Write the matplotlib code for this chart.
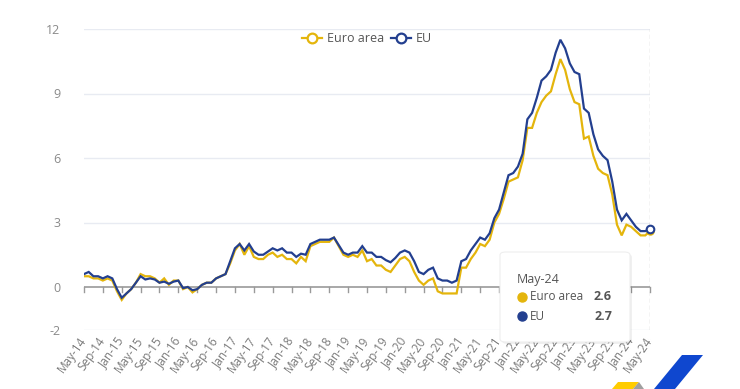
import matplotlib
matplotlib.use("Agg")
import matplotlib.pyplot as plt
from matplotlib.lines import Line2D
from matplotlib.patches import FancyBboxPatch, Polygon
import numpy as np
import pandas as pd

plt.rcParams['font.family'] = ['Open Sans', 'DejaVu Sans']

# ---------------- data ----------------
months = pd.date_range("2014-05-01", "2024-05-01", freq="MS")
month_labels = [d.strftime("%b-%y") for d in months]

euro_area = [
    0.5, 0.5, 0.4, 0.4, 0.3, 0.4, 0.3, -0.2,                      # 2014 May-Dec
    -0.6, -0.3, -0.1, 0.2, 0.6, 0.5, 0.5, 0.4, 0.2, 0.4, 0.1, 0.3,  # 2015
    0.3, -0.1, 0.0, -0.25, -0.1, 0.1, 0.2, 0.2, 0.4, 0.5, 0.6, 1.1, # 2016
    1.7, 2.0, 1.5, 1.9, 1.4, 1.3, 1.3, 1.5, 1.6, 1.4, 1.5, 1.3,     # 2017
    1.3, 1.1, 1.4, 1.2, 1.9, 2.0, 2.1, 2.1, 2.1, 2.3, 1.9, 1.5,     # 2018
    1.4, 1.5, 1.4, 1.7, 1.2, 1.3, 1.0, 1.0, 0.8, 0.7, 1.0, 1.3,     # 2019
    1.4, 1.2, 0.7, 0.3, 0.1, 0.3, 0.4, -0.2, -0.3, -0.3, -0.3, -0.3,  # 2020
    0.9, 0.9, 1.3, 1.6, 2.0, 1.9, 2.2, 3.0, 3.4, 4.1, 4.9, 5.0,     # 2021
    5.1, 5.9, 7.4, 7.4, 8.1, 8.6, 8.9, 9.1, 9.9, 10.6, 10.1, 9.2,   # 2022
    8.6, 8.5, 6.9, 7.0, 6.1, 5.5, 5.3, 5.2, 4.3, 2.9, 2.4, 2.9,     # 2023
    2.8, 2.6, 2.4, 2.4, 2.6,                                       # 2024 Jan-May
]

eu = [
    0.6, 0.7, 0.5, 0.5, 0.4, 0.5, 0.4, -0.1,                       # 2014 May-Dec
    -0.5, -0.3, -0.1, 0.2, 0.5, 0.35, 0.4, 0.35, 0.2, 0.25, 0.15, 0.25,  # 2015
    0.3, -0.05, 0.0, -0.15, -0.1, 0.1, 0.2, 0.2, 0.4, 0.5, 0.6, 1.2,   # 2016
    1.8, 2.0, 1.7, 2.0, 1.65, 1.5, 1.5, 1.65, 1.8, 1.7, 1.8, 1.6,  # 2017
    1.6, 1.4, 1.55, 1.5, 2.0, 2.1, 2.2, 2.2, 2.2, 2.3, 1.95, 1.6,  # 2018
    1.5, 1.6, 1.6, 1.9, 1.6, 1.6, 1.4, 1.4, 1.25, 1.15, 1.35, 1.6, # 2019
    1.7, 1.6, 1.2, 0.7, 0.6, 0.8, 0.9, 0.4, 0.3, 0.3, 0.2, 0.3,   # 2020
    1.2, 1.3, 1.7, 2.0, 2.3, 2.2, 2.5, 3.2, 3.6, 4.4, 5.2, 5.3,   # 2021
    5.6, 6.2, 7.8, 8.1, 8.8, 9.6, 9.8, 10.1, 10.9, 11.5, 11.1, 10.4,  # 2022
    10.0, 9.9, 8.3, 8.1, 7.1, 6.4, 6.1, 5.9, 4.9, 3.6, 3.1, 3.4,  # 2023
    3.1, 2.8, 2.6, 2.6, 2.7,                                      # 2024 Jan-May
]

y_ticks = [-2, 0, 3, 6, 9, 12]

# ---------------- style ----------------
EA_COL = "#e4b50c"
EU_COL = "#233f8f"
GRID_COL = "#e8ebf2"
W, H = 740, 389

fig = plt.figure(figsize=(W / 100, H / 100), dpi=100)
fig.patch.set_facecolor("white")

def fx(x):
    return x / W

def fy(y):
    return 1 - y / H

ax_left, ax_right, ax_top, ax_bot = 84, 650, 29, 330
ax = fig.add_axes([fx(ax_left), fy(ax_bot), (ax_right - ax_left) / W, (ax_bot - ax_top) / H])

x = np.arange(len(months))
ax.plot(x, euro_area, color=EA_COL, lw=1.6, solid_joinstyle="miter", zorder=3)
ax.plot(x, eu, color=EU_COL, lw=1.6, solid_joinstyle="miter", zorder=4)

ax.set_xlim(0, len(months) - 1)
ax.set_ylim(-2, 12)

for s in ax.spines.values():
    s.set_visible(False)

for t in y_ticks:
    if t == 0:
        continue
    ax.axhline(t, color=GRID_COL, lw=1.0, zorder=1)
ax.axhline(0, color="#9a9a9a", lw=1.2, zorder=2)

# tick marks on zero line
tick_pos = x[::4]
for tp in tick_pos:
    ax.plot([tp, tp], [0, -0.22], color="#9a9a9a", lw=1.0, zorder=2, clip_on=False)

ax.set_yticks(y_ticks)
ax.set_yticklabels([str(t) for t in y_ticks], color="#8a8a8a", fontsize=9)
ax.tick_params(axis="y", length=0, pad=17)
ax.set_xticks(tick_pos)
ax.set_xticklabels([month_labels[i] for i in tick_pos], rotation=55, ha="right",
                   va="center", rotation_mode="anchor", color="#7a7a7a", fontsize=8.5)
ax.tick_params(axis="x", length=0, pad=6)

# crosshair at last point
ax.axvline(len(months) - 1, color="#c8c8c8", lw=1.0, ls=(0, (3, 2)), zorder=1)

# hovered markers
ax.scatter([x[-1]], [euro_area[-1]], s=22, facecolor="white", edgecolor=EA_COL, lw=1.4, zorder=5, clip_on=False)
ax.scatter([x[-1]], [eu[-1]], s=30, facecolor="white", edgecolor=EU_COL, lw=1.5, zorder=6, clip_on=False)

# legend
handles = [
    Line2D([], [], color=EA_COL, lw=1.6, marker="o", ms=7, mfc="white", mec=EA_COL, mew=1.6),
    Line2D([], [], color=EU_COL, lw=1.6, marker="o", ms=7, mfc="white", mec=EU_COL, mew=1.6),
]
leg = ax.legend(handles, ["Euro area", "EU"], loc="center", ncol=2,
                bbox_to_anchor=(0.5, 1 - 10 / 301), frameon=False, fontsize=9,
                handlelength=1.6, handletextpad=0.4, columnspacing=0.6)
for t in leg.get_texts():
    t.set_color("#555555")

# tooltip
shadow = FancyBboxPatch((fx(502), fy(344)), (630 - 500) / W, (342 - 252) / H,
                        boxstyle="round,pad=0,rounding_size=0.008",
                        transform=fig.transFigure, facecolor="#000000", alpha=0.06,
                        edgecolor="none", zorder=10)
fig.add_artist(shadow)
box = FancyBboxPatch((fx(500), fy(342)), (630 - 500) / W, (342 - 252) / H,
                     boxstyle="round,pad=0,rounding_size=0.008",
                     transform=fig.transFigure, facecolor="white",
                     edgecolor="#eeeeee", lw=0.8, zorder=11)
fig.add_artist(box)
fig.text(fx(517), fy(280), month_labels[-1], fontsize=9, color="#555555",
         va="center", ha="left", zorder=12)
rows = [("Euro area", euro_area[-1], EA_COL, 297), ("EU", eu[-1], EU_COL, 316)]
for name, val, col, yy in rows:
    fig.add_artist(Line2D([fx(522)], [fy(yy)], marker="o", ms=6.5, color=col,
                          transform=fig.transFigure, zorder=12))
    fig.text(fx(530), fy(yy), name, fontsize=8.5, color="#555555", va="center", ha="left", zorder=12)
    fig.text(fx(612), fy(yy), f"{val:.1f}", fontsize=9, color="#555555", va="center",
             ha="right", fontweight="bold", zorder=12)

# watermark logo (decorative)
fig.add_artist(Polygon([(fx(682), fy(355)), (fx(703), fy(355)), (fx(675), fy(389)), (fx(654), fy(389))],
                       closed=True, transform=fig.transFigure, facecolor="#0f47cf", edgecolor="none", zorder=1))
fig.add_artist(Polygon([(fx(618), fy(382)), (fx(639), fy(382)), (fx(633), fy(389)), (fx(612), fy(389))],
                       closed=True, transform=fig.transFigure, facecolor="#ffcc00", edgecolor="none", zorder=1))
fig.add_artist(Polygon([(fx(633), fy(389)), (fx(639), fy(382)), (fx(644), fy(389))],
                       closed=True, transform=fig.transFigure, facecolor="#a0a0a0", edgecolor="none", zorder=1))

fig.savefig("out.png", dpi=100)
